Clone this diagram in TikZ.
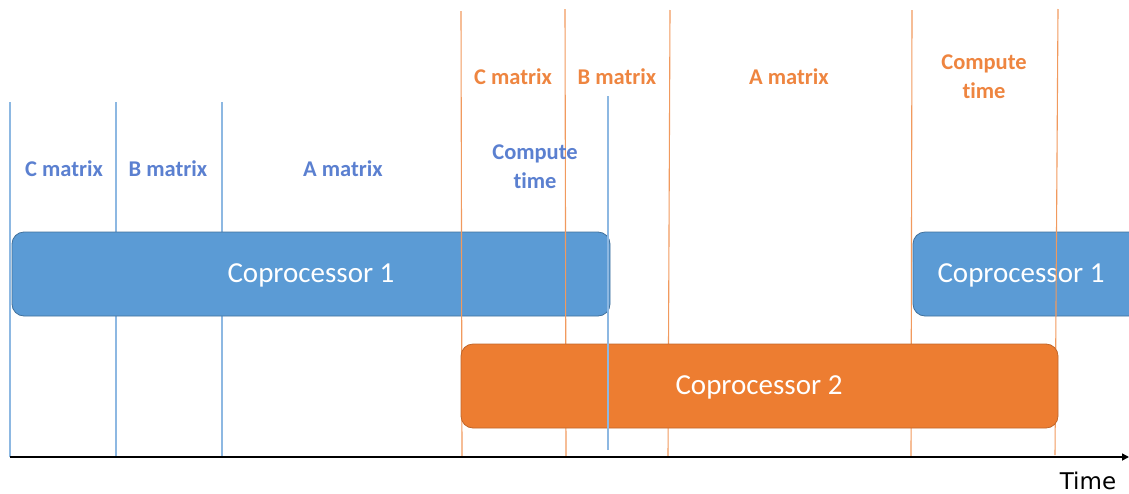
\documentclass[tikz,border=0pt]{standalone}
\usepackage{fontspec}
\setmainfont[Ligatures={NoCommon}]{Carlito}
\newfontfamily\timefont{DejaVu Sans}
\usetikzlibrary{arrows.meta}
\definecolor{boxblue}{HTML}{5B9BD5}
\definecolor{boxblueedge}{HTML}{41719C}
\definecolor{boxorange}{HTML}{ED7D31}
\definecolor{boxorangeedge}{HTML}{C0662A}
\definecolor{lineblue}{HTML}{8DB8E2}
\definecolor{lineorange}{HTML}{F19A5E}
\definecolor{txtblue}{HTML}{5B80D0}
\definecolor{txtorange}{HTML}{EE8540}
\tikzset{
  x=1pt, y=-1pt,
  cobox/.style={rounded corners=12pt, line width=0.8pt, inner sep=0pt},
  cotext/.style={text=white, font=\fontsize{29}{32}\selectfont},
  bline/.style={lineblue, line width=1.1pt},
  oline/.style={lineorange, line width=1.1pt},
  blab/.style={text=txtblue, font=\bfseries\fontsize{22.5}{29}\selectfont, align=center, inner sep=0pt},
  olab/.style={text=txtorange, font=\bfseries\fontsize{22.5}{29}\selectfont, align=center, inner sep=0pt},
}
\begin{document}
\begin{tikzpicture}
\useasboundingbox (0,0) rectangle (1129,493);
% blue lines behind
\coordinate (b1t) at (10,102); \coordinate (b1b) at (10,457);
\coordinate (b2t) at (116,102); \coordinate (b2b) at (116,457);
\coordinate (b3t) at (222,102); \coordinate (b3b) at (222,457);
\coordinate (b4t) at (608,96); \coordinate (b4b) at (608,450);
\draw[bline] (b1t) -- (b1b);
\draw[bline] (b2t) -- (b2b);
\draw[bline] (b3t) -- (b3b);
% blue boxes
\draw[cobox, fill=boxblue, draw=boxblueedge] (12,232) rectangle (610,316);
\node[cotext] (cp1) at (311,275) {Coprocessor 1};
\begin{scope}
\clip (0,0) rectangle (1129,493);
\draw[cobox, fill=boxblue, draw=boxblueedge] (913,232) rectangle (1145,316);
\end{scope}
\node[cotext] (cp1b) at (1021,275) {Coprocessor 1};
% orange lines
\coordinate (o1t) at (461,11); \coordinate (o1b) at (462,457);
\coordinate (o2t) at (565,9); \coordinate (o2b) at (566,457);
\coordinate (o3t) at (670,10); \coordinate (o3b) at (668,457);
\coordinate (o4t) at (912,10); \coordinate (o4b) at (911,457);
\coordinate (o5t) at (1058,9); \coordinate (o5b) at (1055,455);
\draw[oline] (o1t) -- (o1b);
\draw[oline] (o2t) -- (o2b);
\draw[oline] (o3t) -- (o3b);
\draw[oline] (o4t) -- (o4b);
\draw[oline] (o5t) -- (o5b);
% orange box
\draw[cobox, fill=boxorange, draw=boxorangeedge] (461,344) rectangle (1058,428);
\node[cotext] (cp2) at (759,387) {Coprocessor 2};
% blue line over orange box
\draw[bline] (b4t) -- (b4b);
% axis
\coordinate (ax0) at (10,457);
\coordinate (ax1) at (1129,457);
\draw[black, line width=1.6pt, -{Triangle[length=7pt,width=7pt]}] (ax0) -- (ax1);
\node[font=\timefont\fontsize{23}{26}\selectfont, inner sep=0pt] (time) at (1088,481) {Time};
% blue labels
\node[blab] (bc) at (64,169) {C matrix};
\node[blab] (bb) at (168,169) {B matrix};
\node[blab] (ba) at (343,169) {A matrix};
\node[blab] (bt) at (535,167) {Compute\\time};
% orange labels
\node[olab] (oc) at (513,77) {C matrix};
\node[olab] (ob) at (617,77) {B matrix};
\node[olab] (oa) at (789,77) {A matrix};
\node[olab] (ot) at (984,77) {Compute\\time};
\end{tikzpicture}
\end{document}
